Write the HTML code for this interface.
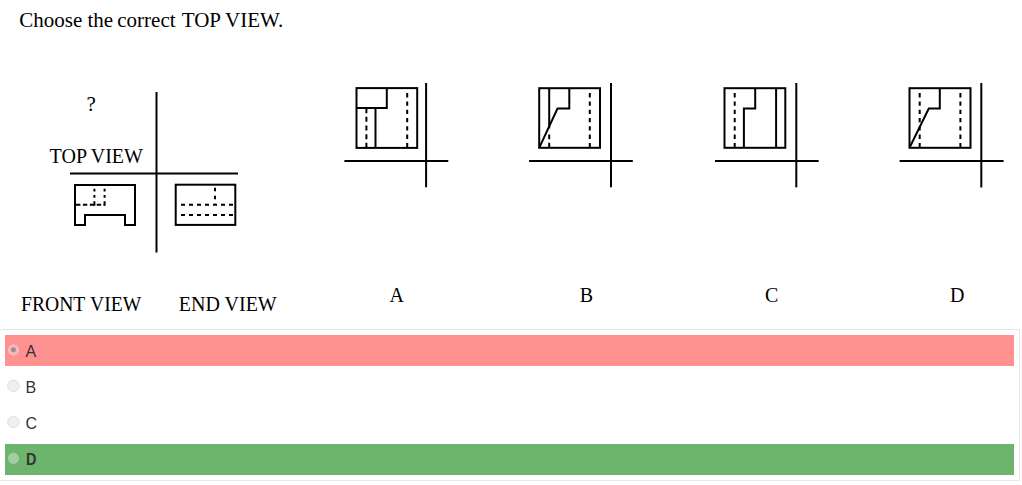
<!DOCTYPE html>
<html>
<head>
<meta charset="utf-8">
<style>
html,body{margin:0;padding:0;background:#fff;}
body{width:1022px;height:485px;position:relative;overflow:hidden;}
.serif{font-family:"Liberation Serif",serif;color:#000;position:absolute;white-space:nowrap;line-height:1;}
svg{position:absolute;left:0;top:0;}
.box{position:absolute;left:-10px;top:329px;width:1030px;height:152px;border:1px solid #e8e8e8;box-sizing:border-box;}
.row{position:absolute;left:5px;width:1009px;height:31px;}
.red{background:#ff9191;}
.green{background:#6db46d;}
.lbl{position:absolute;left:25.5px;font-family:"Liberation Sans",sans-serif;font-size:16px;color:#333;line-height:1;white-space:nowrap;}
.radio{position:absolute;left:7.2px;width:12px;height:12px;border-radius:50%;box-sizing:border-box;}
</style>
</head>
<body>
<div class="serif" style="left:19.3px;top:9.7px;font-size:21px;">Choose</div>
<div class="serif" style="left:87.4px;top:9.7px;font-size:21px;">the</div>
<div class="serif" style="left:117.3px;top:9.7px;font-size:21px;">correct</div>
<div class="serif" style="left:181.7px;top:9.7px;font-size:21px;">TOP</div>
<div class="serif" style="left:225px;top:9.7px;font-size:21px;">VIEW.</div>
<div class="serif" style="left:86.4px;top:94px;font-size:21px;">?</div>
<div class="serif" style="left:49.6px;top:146px;font-size:20px;">TOP</div>
<div class="serif" style="left:90.7px;top:146px;font-size:20px;">VIEW</div>
<div class="serif" style="left:21.1px;top:294.2px;font-size:20px;transform:scaleX(0.98);transform-origin:0 0;">FRONT</div>
<div class="serif" style="left:89.5px;top:294.2px;font-size:20px;transform:scaleX(0.98);transform-origin:0 0;">VIEW</div>
<div class="serif" style="left:178.8px;top:294.2px;font-size:20px;">END VIEW</div>
<div class="serif" style="left:389.6px;top:285.3px;font-size:20px;">A</div>
<div class="serif" style="left:579.8px;top:285px;font-size:20px;">B</div>
<div class="serif" style="left:765px;top:285px;font-size:20px;">C</div>
<div class="serif" style="left:950px;top:285px;font-size:20px;">D</div>

<svg width="1022" height="330" viewBox="0 0 1022 330" fill="none" stroke="#000" stroke-width="2">
  <!-- main axes -->
  <line x1="156.5" y1="92" x2="156.5" y2="252.5"/>
  <line x1="70" y1="173.5" x2="238" y2="173.5"/>
  <!-- front view -->
  <path d="M75 185 H135 V225 H125 V215 H85 V225 H75 Z"/>
  <path d="M76 204.7 H105" stroke-dasharray="4.4 2.5"/>
  <path d="M94.4 188.8 V205.7" stroke-dasharray="2.7 3.5 2.7 3.5 4.5 2"/>
  <path d="M104.6 188.8 V205.7" stroke-dasharray="2.7 3.5 2.7 3.5 4.5 2"/>
  <!-- end view -->
  <rect x="175.7" y="184.7" width="59.6" height="40.2"/>
  <path d="M181 204.7 H234" stroke-dasharray="4 4"/>
  <path d="M181 215 H234" stroke-dasharray="4 4"/>
  <path d="M215 187.7 V204.7" stroke-dasharray="3.5 4.5"/>

  <!-- option A -->
  <g>
    <line x1="426.1" y1="83" x2="426.1" y2="187.3"/>
    <line x1="344.4" y1="161.1" x2="448.3" y2="161.1"/>
    <rect x="356.5" y="88.1" width="60.7" height="59.8"/>
    <path d="M356.5 108 H386.8 V88.1"/>
    <line x1="375.5" y1="108" x2="375.5" y2="148"/>
    <path d="M366.4 108.2 V148" stroke-dasharray="5 3.65"/>
    <path d="M407.2 93.1 V148" stroke-dasharray="4.3 4"/>
  </g>
  <!-- option B -->
  <g>
    <line x1="611" y1="83" x2="611" y2="187.3"/>
    <line x1="529.1" y1="161.1" x2="632.8" y2="161.1"/>
    <rect x="539.2" y="88.2" width="60.8" height="59.6"/>
    <path d="M569.3 88.2 V108.5 H557.5 L539.2 147.8"/>
    <line x1="549.2" y1="88.2" x2="549.2" y2="128.4"/>
    <path d="M549.2 134.5 V148" stroke-dasharray="4.7 3.6"/>
    <path d="M589.8 93.1 V148" stroke-dasharray="4.3 4"/>
  </g>
  <!-- option C -->
  <g>
    <line x1="796.3" y1="83" x2="796.3" y2="187.4"/>
    <line x1="715" y1="161.1" x2="818.7" y2="161.1"/>
    <rect x="724.5" y="88.2" width="60.8" height="59.6"/>
    <path d="M755.2 88.2 V108.5 H743.9 V147.8"/>
    <line x1="776.1" y1="88.2" x2="776.1" y2="147.8"/>
    <path d="M734.7 93.1 V148" stroke-dasharray="4.3 4"/>
  </g>
  <!-- option D -->
  <g>
    <line x1="981.3" y1="83" x2="981.3" y2="187.5"/>
    <line x1="899.6" y1="161.1" x2="1003.6" y2="161.1"/>
    <rect x="909.5" y="88.2" width="61" height="59.6"/>
    <path d="M939.8 88.2 V108.5 H928.8 L909.5 147.8"/>
    <path d="M919.7 93.1 V148" stroke-dasharray="4.3 4"/>
    <path d="M960.4 93.1 V148" stroke-dasharray="4.3 4"/>
  </g>
</svg>

<div class="box"></div>
<div class="row red" style="top:335px;"></div>
<div class="row green" style="top:444px;"></div>

<svg width="30" height="485" viewBox="0 0 30 485" style="position:absolute;left:0;top:0;">
  <circle cx="13.5" cy="350" r="5.7" fill="rgb(242,186,188)"/>
  <circle cx="13.4" cy="349.8" r="2.5" fill="#a38c8e"/>
  <circle cx="13.4" cy="385.8" r="5.7" fill="#efefef" stroke="#dedede" stroke-width="1"/>
  <circle cx="13.4" cy="421.9" r="5.7" fill="#efefef" stroke="#dedede" stroke-width="1"/>
  <circle cx="13.45" cy="458.35" r="5.6" fill="rgba(255,255,255,0.36)"/>
</svg>

<div class="lbl" style="top:343.75px;">A</div>
<div class="lbl" style="top:379.85px;">B</div>
<div class="lbl" style="top:415.9px;">C</div>
<div class="lbl" style="top:452.1px;left:26.1px;font-weight:bold;transform:scaleX(0.9);transform-origin:0 0;">D</div>
</body>
</html>
